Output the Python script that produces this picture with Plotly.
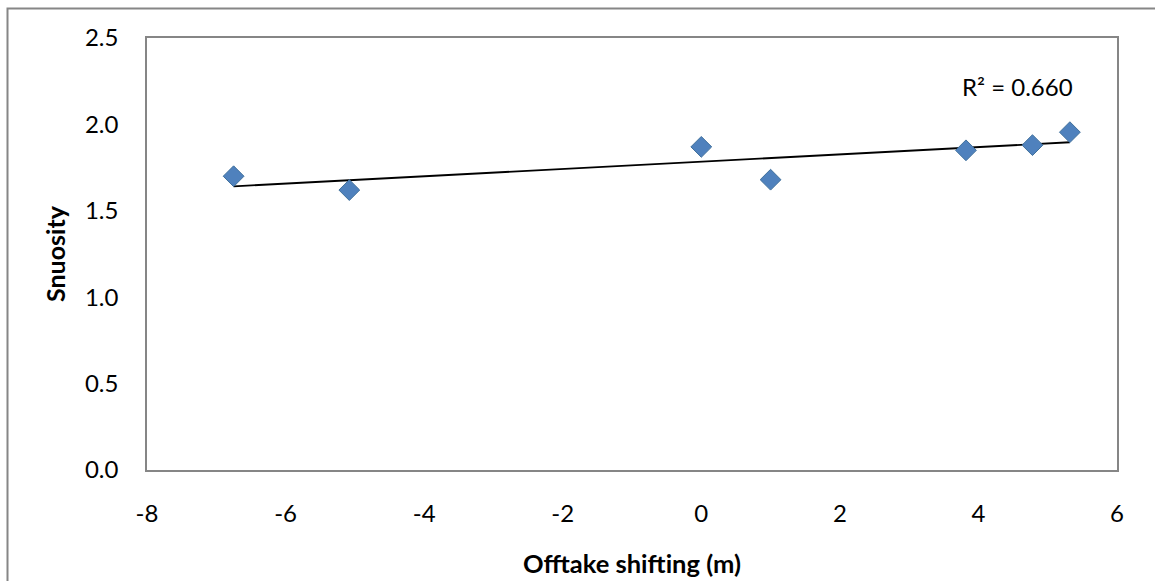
import numpy as np
import plotly.graph_objects as go

# Offtake shifting (m) and channel sinuosity
offtake_shift = [-6.75, -5.08, 0.0, 1.0, 3.82, 4.78, 5.32]
sinuosity = [1.70, 1.62, 1.87, 1.68, 1.85, 1.88, 1.955]
r_squared_label = "R² = 0.660"

x_ticks = [-8, -6, -4, -2, 0, 2, 4, 6]
y_ticks = [0.0, 0.5, 1.0, 1.5, 2.0, 2.5]

# Linear trendline across the data span
slope, intercept = np.polyfit(offtake_shift, sinuosity, 1)
trend_x = [min(offtake_shift), max(offtake_shift)]
trend_y = [slope * v + intercept for v in trend_x]

FONT = "Lato"
AXIS_GRAY = "#868686"

fig = go.Figure()
fig.add_trace(go.Scatter(
    x=trend_x, y=trend_y, mode="lines",
    line=dict(color="black", width=1.8),
    hoverinfo="skip", showlegend=False,
))
fig.add_trace(go.Scatter(
    x=offtake_shift, y=sinuosity, mode="markers",
    marker=dict(symbol="diamond", size=16, color="#4F81BD",
                line=dict(color="#41719C", width=1)),
    showlegend=False,
))

fig.add_annotation(
    x=(1017 - 147) / 970, y=1.0 - (86 - 38) / 432, xref="paper", yref="paper",
    text=r_squared_label, showarrow=False,
    font=dict(family=FONT, size=24, color="black"),
    xanchor="center", yanchor="middle",
)

# Outer chart-area frame
fig.add_shape(
    type="rect", xref="paper", yref="paper",
    x0=(7.5 - 147) / 970, x1=1.3,
    y0=-0.5, y1=(470 - 8.5) / 432,
    line=dict(color=AXIS_GRAY, width=2), layer="below",
)

fig.update_layout(
    width=1155, height=581,
    margin=dict(l=147, r=38, t=38, b=111, autoexpand=False),
    paper_bgcolor="white", plot_bgcolor="white",
    font=dict(family=FONT, color="black"),
    xaxis=dict(
        range=[-8, 6], tickvals=x_ticks, ticktext=[str(v) for v in x_ticks],
        showgrid=False, zeroline=False,
        showline=True, mirror=True, linecolor=AXIS_GRAY, linewidth=1.5,
        ticks="", ticklabelstandoff=21,
        tickfont=dict(family=FONT, size=24),
        title=dict(text="<b>Offtake shifting (m)</b>", standoff=30,
                   font=dict(family=FONT, size=25.5)),
    ),
    yaxis=dict(
        range=[0, 2.5], tickvals=y_ticks, ticktext=[f"{v:.1f}" for v in y_ticks],
        showgrid=False, zeroline=False,
        showline=True, mirror=True, linecolor=AXIS_GRAY, linewidth=1.5,
        ticks="", ticklabelstandoff=22,
        tickfont=dict(family=FONT, size=24),
        title=dict(text="<b>Snuosity</b>", standoff=12,
                   font=dict(family=FONT, size=25)),
    ),
)

fig.write_html("out.html")
